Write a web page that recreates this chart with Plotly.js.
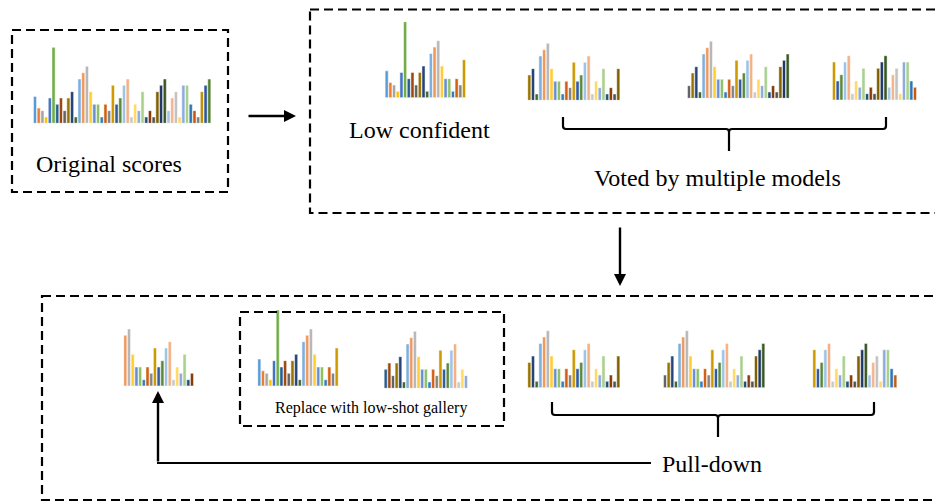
<!DOCTYPE html>
<html><head><meta charset="utf-8">
<script src="https://cdn.plot.ly/plotly-3.0.1.min.js"></script>
<style>html,body{margin:0;padding:0;background:#fff}#chart{width:935px;height:502px}</style>
</head><body><div id="chart"></div>
<script>
// Original score vector (48 classes), values in arbitrary score units
const scores = [4.25,2.4,2,1,4,12, 3,4,2,4,5,1, 7,8,9,5,3,3, 1,3,2,6,3,4, 6,7,1,3,2,5, 1,2,1,5,6,7, 2,4,5,1,6,6, 3,2,1,5,6,7];
const barColors = [
 '#5B9BD5','#ED7D31','#A5A5A5','#FFC000','#4472C4','#70AD47',
 '#255E91','#9E480E','#636363','#997300','#264478','#43682B',
 '#7CAFDD','#F1975A','#B7B7B7','#FFCD33','#698ED0','#8CC168',
 '#327DC2','#D26012','#848484','#CC9A00','#335AA1','#5A8A39',
 '#9DC3E6','#F4B183','#C9C9C9','#FFD966','#8FAADC','#A9D18E',
 '#1F4E79','#843C0C','#525252','#7F6000','#203864','#385723',
 '#A2C4E8','#F5B48E','#C3C3C3','#FFD966','#8FAADC','#A9D18E',
 '#2E75B6','#C55A11','#7F7F7F','#BF9000','#2F5597','#548235'];
// which slice of the score vector each mini chart shows
const sliceFrom = [0, 0, 9, 8, 21, 13, 0, 6, 9, 8, 21];
const sliceTo   = [47,21,33,35,43, 31,21,28,33,35,43];
// labels
const labels = {orig:'Original scores', low:'Low confident', voted:'Voted by multiple models', replace:'Replace with low-shot gallery', pull:'Pull-down'};

// ---- layout (pixel placement of each mini chart) ----
const W=935, H=502, UNIT=6.33, YMAX=12;
const place = [ // first bar center, last bar center, baseline (px)
 [35,209.3,123.3],[386.7,464,97.7],[529.3,618.3,100.3],[689,787.7,98.3],[834,915,100],
 [125.3,192,386],[259.3,336.7,386],[385.7,466,388.3],[529.3,618.3,387.7],[665,763.3,387.7],[814.3,895.3,387.7]];

const traces=[]; const layout={width:W,height:H,margin:{l:0,r:0,t:0,b:0},paper_bgcolor:'#fff',plot_bgcolor:'rgba(0,0,0,0)',showlegend:false,bargap:0.16};
sliceFrom.forEach((f,i)=>{
  const t=sliceTo[i], n=i+1, p=place[i];
  const slot=(p[1]-p[0])/(t-f);
  const idx=[]; for(let k=f;k<=t;k++) idx.push(k);
  traces.push({type:'bar',x:idx,y:scores.slice(f,t+1),marker:{color:barColors.slice(f,t+1),line:{color:'#fff',width:0.5}},xaxis:'x'+(n===1?'':n),yaxis:'y'+(n===1?'':n),hoverinfo:'skip'});
  layout['xaxis'+(n===1?'':n)]={domain:[(p[0]-slot/2)/W,(p[1]+slot/2)/W],range:[f-0.5,t+0.5],visible:false,fixedrange:true,anchor:'y'+(n===1?'':n)};
  layout['yaxis'+(n===1?'':n)]={domain:[1-p[2]/H,1-(p[2]-YMAX*UNIT)/H],range:[0,YMAX],visible:false,fixedrange:true,anchor:'x'+(n===1?'':n)};
});
// overlay pixel axes for decorations
traces.push({type:'scatter',x:[],y:[],xaxis:'x12',yaxis:'y12',hoverinfo:'skip'});
layout.xaxis12={domain:[0,1],range:[0,W],visible:false,fixedrange:true,anchor:'y12'};
layout.yaxis12={domain:[0,1],range:[H,0],visible:false,fixedrange:true,anchor:'x12'};

const dash={color:'#000',width:2.2,dash:'9px,5px'};
const solid={color:'#000',width:2.2};
function rect(x0,y0,x1,y1){return {type:'rect',xref:'x12',yref:'y12',x0,y0,x1,y1,line:dash,fillcolor:'rgba(0,0,0,0)'};}
function brace(l,r,top,hy,c,bot){
  const d=`M ${l},${top} L ${l},${hy-3} Q ${l},${hy} ${l+3},${hy} L ${c-3},${hy} Q ${c},${hy} ${c},${hy+3} L ${c},${bot} M ${c},${hy+3} Q ${c},${hy} ${c+3},${hy} L ${r-3},${hy} Q ${r},${hy} ${r},${hy-3} L ${r},${top}`;
  return {type:'path',xref:'x12',yref:'y12',path:d,line:solid};
}
layout.shapes=[
  rect(12,30,228,192), rect(310,9.5,945,213), rect(42,296,945,500), rect(240,312,504,426),
  brace(563,886,117,129,729,151), brace(552,874,402,415,718,437),
  {type:'line',xref:'x12',yref:'y12',x0:157,y0:463,x1:651,y1:463,line:solid}
];
const serif={family:'Liberation Serif, Times New Roman, serif',color:'#000'};
function txt(s,x,y,size){return {text:s,xref:'x12',yref:'y12',x,y,xanchor:'center',yanchor:'middle',showarrow:false,font:Object.assign({size},serif)};}
function arrow(x,y,ax,ay){return {text:'',xref:'x12',yref:'y12',x,y,ax,ay,showarrow:true,arrowhead:2,arrowsize:1,arrowwidth:2.4,arrowcolor:'#000',standoff:0,startstandoff:0};}
layout.annotations=[
  txt(labels.orig,108.5,164,24), txt(labels.low,419,130,24), txt(labels.voted,717.5,178,24),
  txt(labels.replace,370.5,408,16), txt(labels.pull,712,464,24),
  arrow(296,116,-49,0), arrow(620,286,0,-60), arrow(158,391,0,72)
];
Plotly.newPlot('chart',traces,layout,{staticPlot:true,displayModeBar:false});
</script></body></html>
